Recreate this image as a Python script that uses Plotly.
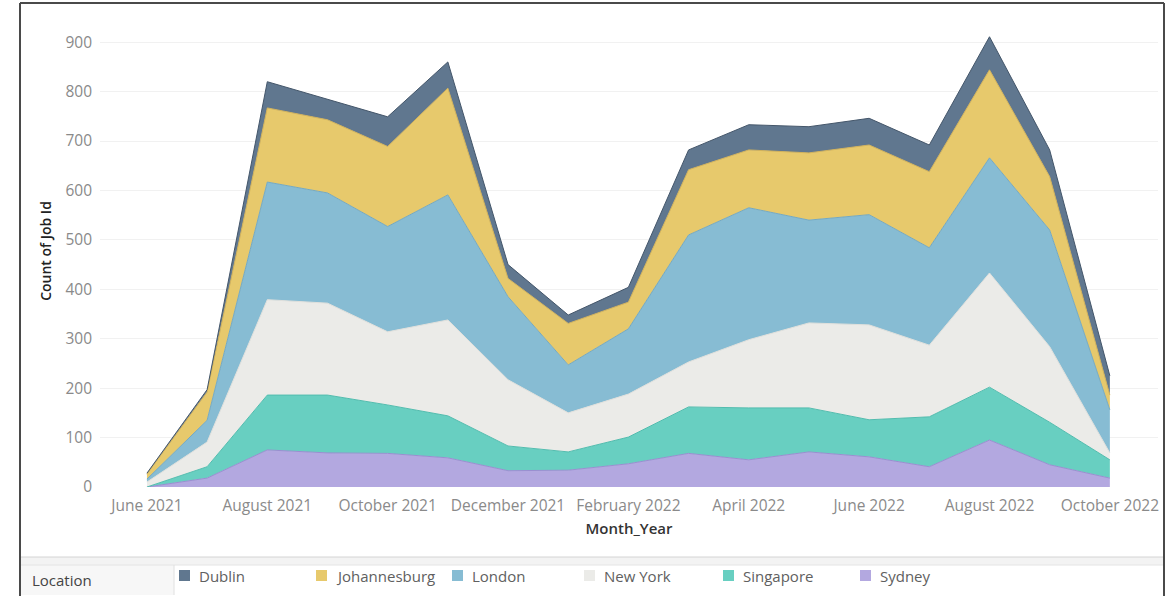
import plotly.graph_objects as go

months = ["June 2021", "July 2021", "August 2021", "September 2021", "October 2021",
          "November 2021", "December 2021", "January 2022", "February 2022", "March 2022",
          "April 2022", "May 2022", "June 2022", "July 2022", "August 2022",
          "September 2022", "October 2022"]

sydney       = [0, 18, 75, 69, 68, 59, 33, 34, 47, 68, 55, 71, 61, 41, 95, 45, 18]
singapore    = [0, 23, 111, 117, 98, 85, 50, 37, 54, 94, 105, 89, 75, 101, 107, 86, 37]
new_york     = [10, 50, 193, 186, 148, 194, 134, 79, 87, 91, 138, 172, 192, 145, 231, 153, 14]
london       = [6, 44, 238, 223, 213, 253, 168, 97, 132, 257, 267, 208, 223, 197, 233, 236, 87]
johannesburg = [10, 57, 150, 148, 162, 216, 37, 84, 54, 132, 117, 136, 141, 154, 178, 108, 30]
dublin       = [2, 5, 53, 42, 60, 53, 28, 17, 30, 40, 51, 53, 54, 54, 67, 54, 39]

locations = ["Dublin", "Johannesburg", "London", "New York", "Singapore", "Sydney"]
y_ticks = [0, 100, 200, 300, 400, 500, 600, 700, 800, 900]
x_tick_idx = [0, 2, 4, 6, 8, 10, 12, 14, 16]

series = {
    "Sydney": sydney, "Singapore": singapore, "New York": new_york,
    "London": london, "Johannesburg": johannesburg, "Dublin": dublin,
}
fills = {
    "Dublin": "#60778f", "Johannesburg": "#e7c96c", "London": "#87bcd3",
    "New York": "#ebebe8", "Singapore": "#68cfc1", "Sydney": "#b3a8e0",
}
edges = {
    "Dublin": "#44566a", "Johannesburg": "#d2b25a", "London": "#74a9c2",
    "New York": "#e0e0dc", "Singapore": "#52bcae", "Sydney": "#9a8ed0",
}

x = list(range(len(months)))

fig = go.Figure()
for name in ["Sydney", "Singapore", "New York", "London", "Johannesburg", "Dublin"]:
    fig.add_trace(go.Scatter(
        x=x, y=series[name], name=name, mode="lines", stackgroup="one",
        line=dict(color=edges[name], width=1), fillcolor=fills[name],
        showlegend=False,
        customdata=[months[i] for i in x],
        hovertemplate="%{customdata}<br>" + name + ": %{y}<extra></extra>",
    ))

font_fam = "Open Sans, Lato, sans-serif"

fig.update_layout(
    width=1173, height=596,
    margin=dict(l=100, r=15, t=15, b=109),
    paper_bgcolor="white", plot_bgcolor="white",
    xaxis=dict(
        range=[-0.78, 16.8], tickmode="array", tickvals=x_tick_idx,
        ticktext=[months[i] for i in x_tick_idx],
        showgrid=False, zeroline=False, showline=False, ticks="",
        tickfont=dict(family=font_fam, size=15.5, color="#8a8a8a"),
        ticklabelstandoff=7,
        title=dict(text="Month_Year", standoff=8,
                   font=dict(family=font_fam, size=15, color="#333333", weight=600)),
    ),
    yaxis=dict(
        range=[0, 955], tickmode="array", tickvals=y_ticks,
        showgrid=True, gridcolor="#f1f1f1", gridwidth=1,
        zeroline=False, showline=False, ticks="",
        tickfont=dict(family=font_fam, size=15.5, color="#8a8a8a"),
        ticklabelstandoff=7,
        title=dict(text="Count of Job Id", standoff=10,
                   font=dict(family=font_fam, size=14, color="#222222", weight=600)),
    ),
)

# frame and legend area (paper coords from pixel positions)
W, H = 1173, 596
def px(xp):
    return (xp - 100) / (W - 100 - 15)
def py(yp):
    return (487 - yp) / (596 - 15 - 109)

shapes = []
# outer border
shapes.append(dict(type="line", xref="paper", yref="paper", x0=px(20), x1=px(20), y0=py(3), y1=py(596), line=dict(color="#4a4a4a", width=2)))
shapes.append(dict(type="line", xref="paper", yref="paper", x0=px(20), x1=px(1164), y0=py(3), y1=py(3), line=dict(color="#4a4a4a", width=2)))
shapes.append(dict(type="line", xref="paper", yref="paper", x0=px(1164), x1=px(1164), y0=py(3), y1=py(596), line=dict(color="#4a4a4a", width=2)))
# legend separator band
shapes.append(dict(type="rect", xref="paper", yref="paper", x0=px(21), x1=px(1163), y0=py(565), y1=py(557), fillcolor="#f3f3f3", line=dict(width=0), layer="below"))
shapes.append(dict(type="line", xref="paper", yref="paper", x0=px(21), x1=px(1163), y0=py(557), y1=py(557), line=dict(color="#d4d4d4", width=1)))
shapes.append(dict(type="line", xref="paper", yref="paper", x0=px(21), x1=px(1163), y0=py(565), y1=py(565), line=dict(color="#e4e4e4", width=1)))
# location header cell
shapes.append(dict(type="rect", xref="paper", yref="paper", x0=px(21), x1=px(174), y0=py(595), y1=py(565), fillcolor="#f7f7f7", line=dict(width=0), layer="below"))
shapes.append(dict(type="line", xref="paper", yref="paper", x0=px(174), x1=px(174), y0=py(595), y1=py(565), line=dict(color="#e0e0e0", width=1)))

annotations = [dict(text="Location", xref="paper", yref="paper", x=px(30), y=py(580),
                    xanchor="left", yanchor="middle", showarrow=False,
                    font=dict(family=font_fam, size=15, color="#444444"))]

legend_sq_x = [179, 316, 452, 584, 723, 860]
for name, sx in zip(locations, legend_sq_x):
    shapes.append(dict(type="rect", xref="paper", yref="paper",
                       x0=px(sx), x1=px(sx + 11), y0=py(581), y1=py(570),
                       fillcolor=fills[name], line=dict(width=0)))
    annotations.append(dict(text=name, xref="paper", yref="paper", x=px(sx + 18), y=py(576),
                            xanchor="left", yanchor="middle", showarrow=False,
                            font=dict(family=font_fam, size=15, color="#606060")))

fig.update_layout(shapes=shapes, annotations=annotations)

fig.write_html("out.html", config={"displayModeBar": False},
               post_script="document.body.style.margin='0';document.body.style.overflow='hidden';")
